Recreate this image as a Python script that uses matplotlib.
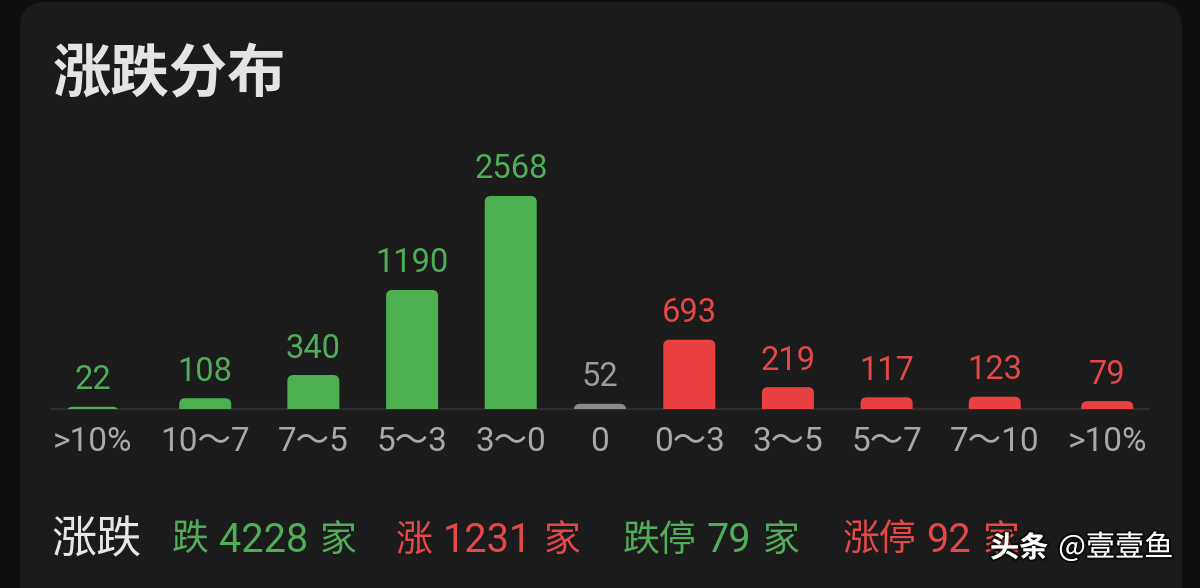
import matplotlib
matplotlib.use('Agg')
import matplotlib.pyplot as plt
import numpy as np
from matplotlib.patches import FancyBboxPatch
from matplotlib.transforms import IdentityTransform
import matplotlib.patheffects as pe

plt.rcParams['font.family'] = ['Roboto', 'Noto Sans CJK SC', 'DejaVu Sans']
CJK = ['Noto Sans CJK SC', 'DejaVu Sans']

# ---------------- data ----------------
title = '涨跌分布'
categories = ['>10%', '10～7', '7～5', '5～3', '3～0', '0', '0～3', '3～5', '5～7', '7～10', '>10%']
counts = [22, 108, 340, 1190, 2568, 52, 693, 219, 117, 123, 79]
kinds = ['down', 'down', 'down', 'down', 'down', 'flat', 'up', 'up', 'up', 'up', 'up']
summary_label = '涨跌'
summary_prefix = ['跌', '涨', '跌停', '涨停']
summary_values = [4228, 1231, 79, 92]
summary_unit = '家'
summary_kinds = ['down', 'up', 'down', 'up']
watermark_bold = '头条'
watermark_name = '@壹壹鱼'

# ---------------- style ----------------
W, H = 1200, 588
BG_OUT = '#0f0f0f'
BG_PANEL = '#1b1b1b'
bar_col = {'down': '#4caf50', 'up': '#e94141', 'flat': '#8c8c8c'}
txt_col = {'down': '#4fae57', 'up': '#e44848', 'flat': '#9c9c9c'}

fig = plt.figure(figsize=(W / 100, H / 100), dpi=100)
fig.patch.set_facecolor(BG_OUT)
renderer = fig.canvas.get_renderer()

panel = FancyBboxPatch((20, -40), 1162, 626, boxstyle='round,pad=0,rounding_size=26',
                       transform=IdentityTransform(), facecolor=BG_PANEL, edgecolor='none',
                       zorder=-5)
fig.patches.append(panel)

def fy(ypx):
    return 1 - ypx / H

# axes: baseline at y=409 px, spanning x 52..1148; x data units = pixels
ax_left_px, ax_w_px = 52, 1096
ax_bottom_px, ax_h_px = 409, 260
ax = fig.add_axes([ax_left_px / W, fy(ax_bottom_px), ax_w_px / W, ax_h_px / H])
ax.set_zorder(1)
ax.set_facecolor('none')
for s in ax.spines.values():
    s.set_visible(False)
ax.set_xticks([])
ax.set_yticks([])

# compressed scale above a threshold (the app compresses the tallest bars)
T, K = 1200.0, 0.68

def fwd(v):
    v = np.asarray(v, dtype=float)
    return np.where(v <= T, v, T + (v - T) * K)

def inv(u):
    u = np.asarray(u, dtype=float)
    return np.where(u <= T, u, T + (u - T) / K)

ax.set_yscale('function', functions=(fwd, inv))
ax.yaxis.set_major_locator(matplotlib.ticker.NullLocator())
ax.yaxis.set_minor_locator(matplotlib.ticker.NullLocator())
ax.set_ylim(0, float(inv(2600)))
ax.set_xlim(0, ax_w_px)
ax.set_autoscale_on(False)

# category labels: measure, then lay out items (width = max(label, bar)) with equal gaps
bar_w = 52
cat_texts = []
widths = []
for c in categories:
    t = ax.text(0, -42 / ax_h_px, c, transform=ax.get_xaxis_transform(), ha='center',
                va='baseline', fontsize=24, color='#a9a9a9')
    cat_texts.append(t)
    widths.append(max(t.get_window_extent(renderer).width, bar_w))
widths = np.array(widths)
span_l, span_r = 1.0, ax_w_px - 1.0
gap = (span_r - span_l - widths.sum()) / (len(widths) - 1)
centers = span_l + np.cumsum(widths) - widths / 2 + gap * np.arange(len(widths))
for t, cx in zip(cat_texts, centers):
    t.set_x(cx)

bars = ax.bar(centers, counts, width=bar_w, color=[bar_col[k] for k in kinds], zorder=2)

# baseline
ax.plot([0, 1], [0, 0], transform=ax.transAxes, color='#2e2e2e', lw=1.6,
        clip_on=False, zorder=1)

# rounded-top bars, derived from the bar geometry
for rect, k in zip(bars, kinds):
    x0, y0 = ax.transData.transform((rect.get_x(), 0))
    x1, y1 = ax.transData.transform((rect.get_x() + rect.get_width(), rect.get_height()))
    ext = 14
    p = FancyBboxPatch((x0, y0 - ext), x1 - x0, (y1 - y0) + ext,
                       boxstyle='round,pad=0,rounding_size=6',
                       transform=IdentityTransform(), facecolor=bar_col[k],
                       edgecolor='none', zorder=2)
    ax.add_artist(p)
    rect.set_visible(False)

# value labels
for cx, v, k in zip(centers, counts, kinds):
    ax.annotate(str(v), (cx, v), xytext=(0, 12.6), textcoords='offset points',
                ha='center', va='baseline', fontsize=23.5, color=txt_col[k], zorder=3)

# title
fig.text(53 / W, fy(75), title, fontsize=42, fontweight='bold', color='#e4e4e4',
         ha='left', va='center', family=CJK)

# summary row
fig.text(52 / W, fy(540), summary_label, fontsize=32.5, color='#e6e6e6',
         ha='left', va='center', family=CJK)

group_starts = [172, 396, 623, 843]
for gx, pre, val, k in zip(group_starts, summary_prefix, summary_values, summary_kinds):
    c = txt_col[k]
    t1 = fig.text(gx / W, fy(540), pre, fontsize=26.5, color=c, ha='left', va='center', family=CJK)
    e1 = t1.get_window_extent(renderer)
    t2 = fig.text((e1.x1 + 10) / W, fy(540), str(val), fontsize=28.5, fontweight='normal',
                  color=c, ha='left', va='center')
    e2 = t2.get_window_extent(renderer)
    fig.text((e2.x1 + 12) / W, fy(540), summary_unit, fontsize=26.5, color=c,
             ha='left', va='center', family=CJK)

# watermark
shadow = [pe.Stroke(linewidth=3, foreground=(0, 0, 0, 0.55)), pe.Normal()]
tw = fig.text(990 / W, fy(548), watermark_bold, fontsize=21, fontweight='bold', color='white',
              ha='left', va='center', family=CJK, path_effects=shadow, zorder=5)
ew = tw.get_window_extent(renderer)
fig.text((ew.x1 + 10) / W, fy(548), watermark_name, fontsize=21, color='white',
         ha='left', va='center', family=CJK, path_effects=shadow, zorder=5)

fig.savefig('out.png', dpi=100, facecolor=fig.get_facecolor())
